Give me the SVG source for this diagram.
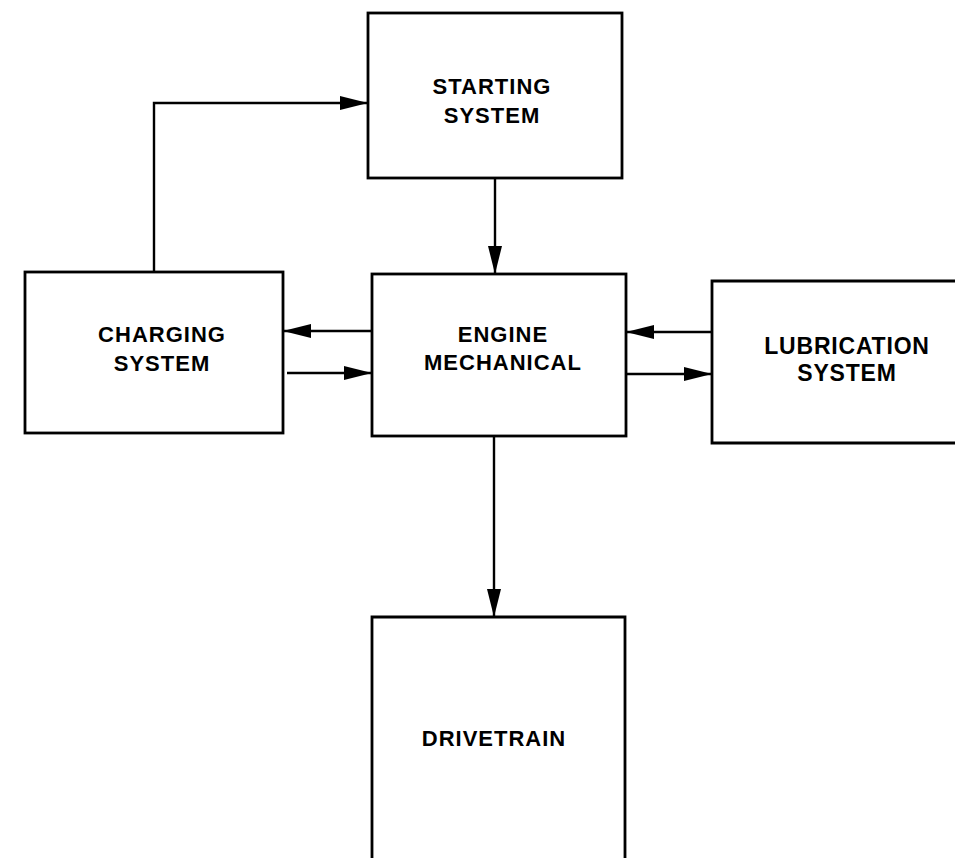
<svg xmlns="http://www.w3.org/2000/svg" width="955" height="858" viewBox="0 0 955 858">
<style>
.box{fill:#fff;stroke:#000;stroke-width:2.8}
.lbl{font-family:"Liberation Sans",Arial,sans-serif;font-weight:bold;font-size:22px;letter-spacing:1px;text-anchor:middle;fill:#000}
.big{font-size:23px;letter-spacing:0.8px}
.con{fill:none;stroke:#000;stroke-width:2.4;marker-end:url(#ah)}
</style>
<defs>
<marker id="ah" markerUnits="userSpaceOnUse" markerWidth="29" markerHeight="15" refX="28" refY="7.5" orient="auto">
<path d="M0,0.5 L28,7.5 L0,14.5 z" fill="#000"/>
</marker>
</defs>
<rect width="955" height="858" fill="#fff"/>
<g id="starting">
<rect class="box" x="368" y="13" width="254" height="165"/>
<text class="lbl" x="492" y="94">STARTING</text>
<text class="lbl" x="492" y="123">SYSTEM</text>
</g>
<g id="charging">
<rect class="box" x="25" y="272" width="258" height="161"/>
<text class="lbl" x="162" y="342">CHARGING</text>
<text class="lbl" x="162" y="371">SYSTEM</text>
</g>
<g id="engine">
<rect class="box" x="372" y="274" width="254" height="162"/>
<text class="lbl" x="503" y="342">ENGINE</text>
<text class="lbl" x="503" y="370">MECHANICAL</text>
</g>
<g id="lubrication">
<path class="box" d="M962,281 H712 V443 H962"/>
<text class="lbl big" x="847" y="354">LUBRICATION</text>
<text class="lbl big" x="847" y="381">SYSTEM</text>
</g>
<g id="drivetrain">
<path class="box" d="M372,866 V617 H625 V866"/>
<text class="lbl" x="494" y="746">DRIVETRAIN</text>
</g>
<g id="connectors">
<path class="con" d="M154,272 V103 H368"/>
<path class="con" d="M495,178 V274"/>
<path class="con" d="M372,331 H283"/>
<path class="con" d="M287,373 H372"/>
<path class="con" d="M712,332 H626"/>
<path class="con" d="M627,374 H712"/>
<path class="con" d="M494,436 V617"/>
</g>
</svg>
